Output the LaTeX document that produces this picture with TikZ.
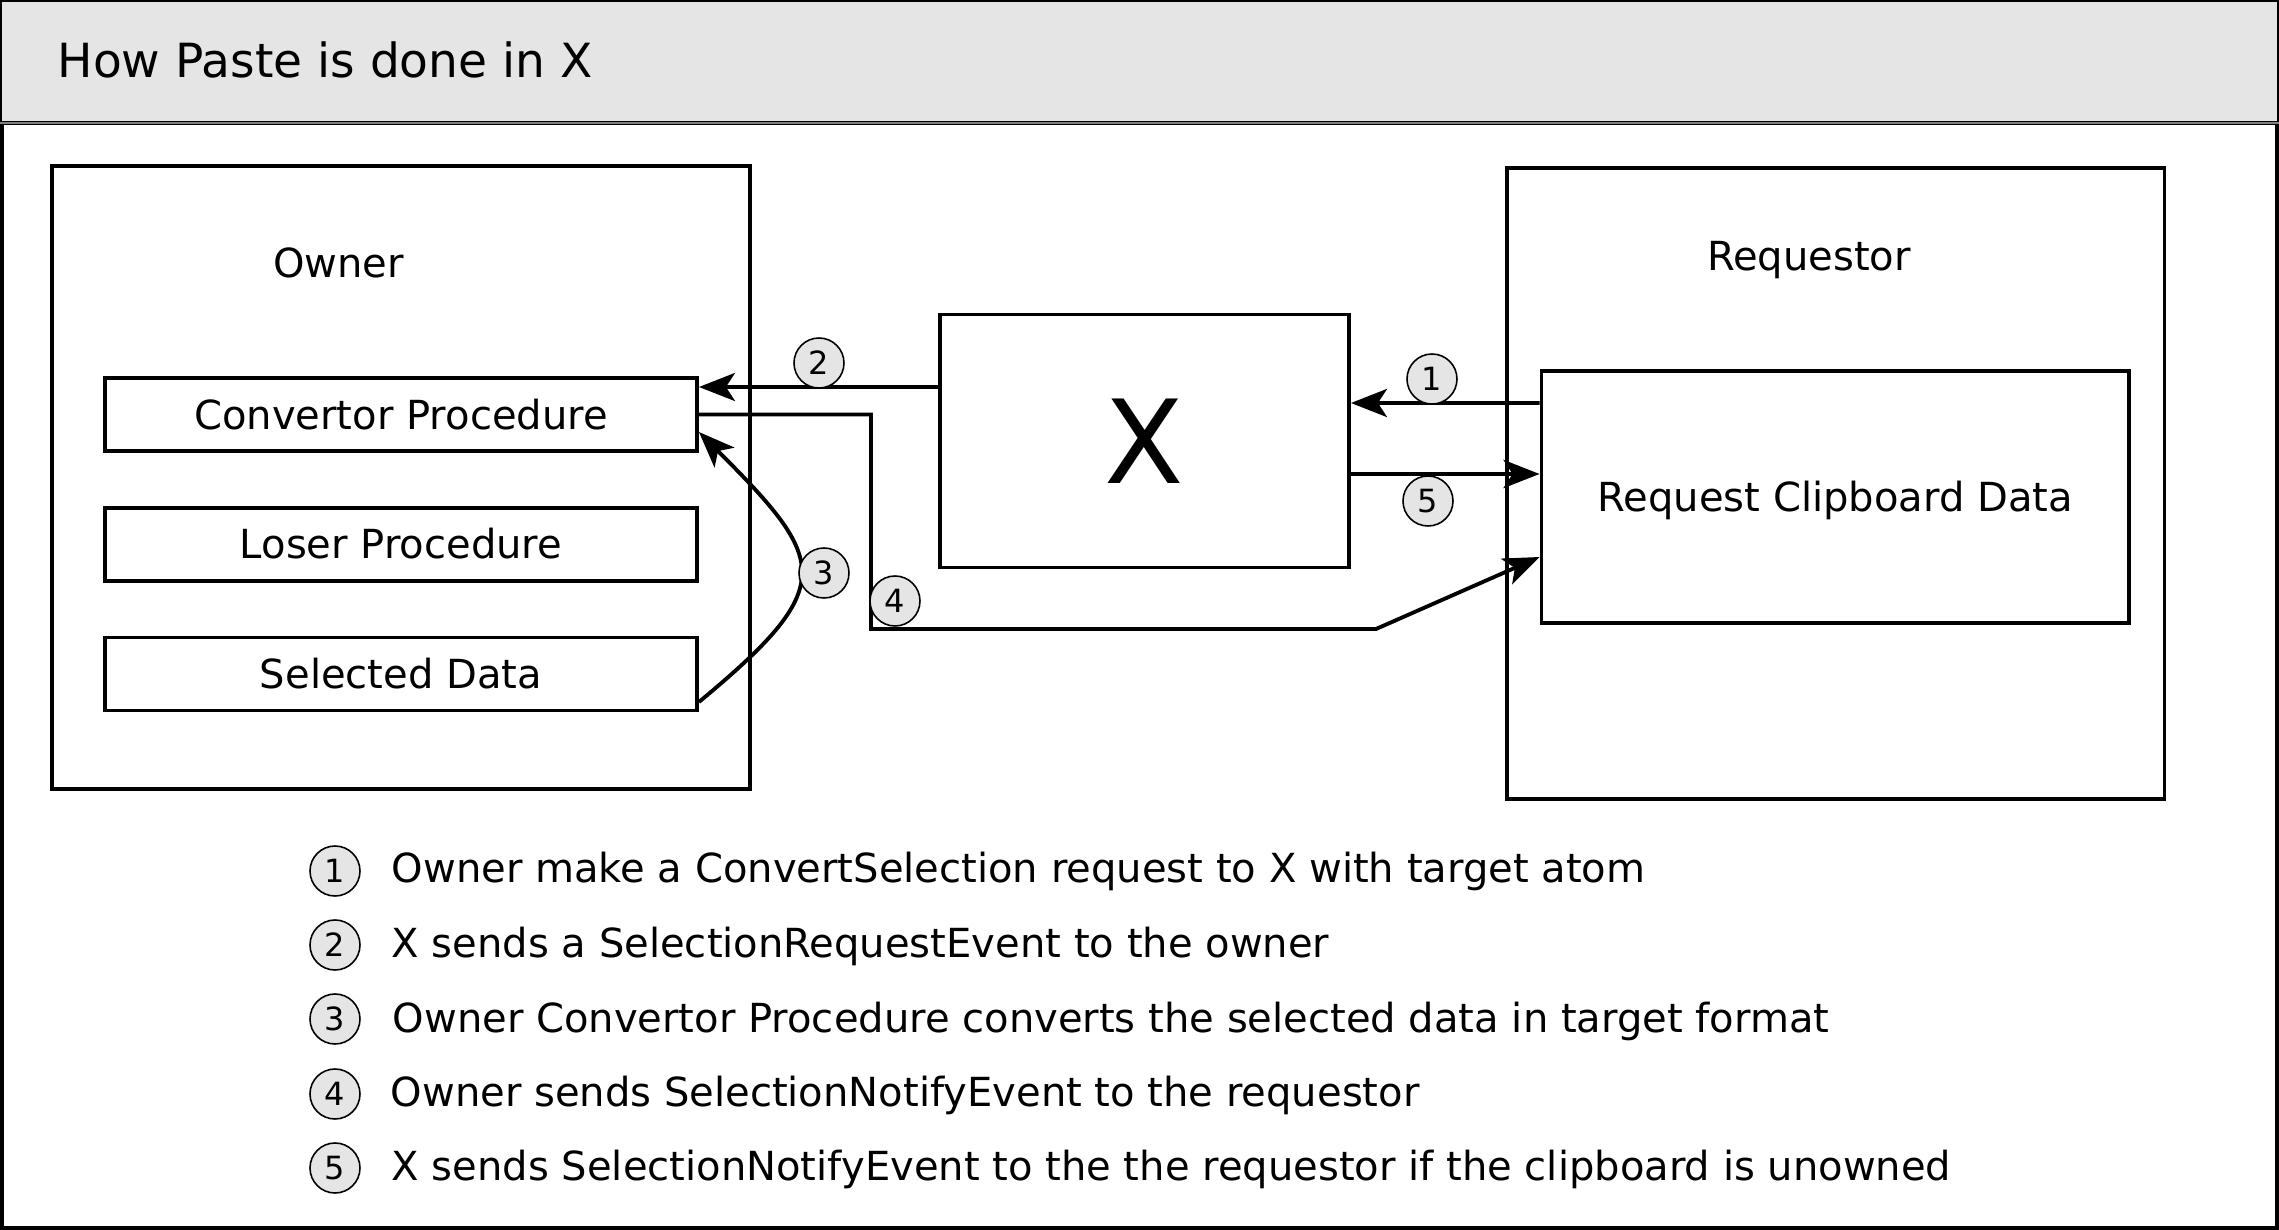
\documentclass[tikz,border=0pt]{standalone}
\usepackage{fontspec}
\setmainfont{DejaVu Sans}
\usepackage{tikz}
\usetikzlibrary{arrows.meta, positioning, calc}

\begin{document}
\begin{tikzpicture}[
    box/.style={
        rectangle, draw, line width=1.1pt, inner sep=0pt
    },
    proc/.style={
        box, minimum width=5.92cm, minimum height=0.73cm,
        font=\fontsize{11.4}{13}\selectfont, text height=8.3pt, text depth=0pt
    },
    tag/.style={inner sep=0pt, font=\fontsize{11.4}{13}\selectfont},
    badge/.style={
        circle, draw, line width=0.45pt, fill=gray!20, minimum size=0.5cm,
        inner sep=0pt, font=\fontsize{9.1}{10}\selectfont
    },
    note/.style={anchor=base west, inner sep=0pt, font=\fontsize{11.4}{13}\selectfont},
    link/.style={-{Stealth[length=3.6mm,width=2.8mm,inset=0.9mm]}, line width=1.1pt},
]

\useasboundingbox (0,0) rectangle (22.79,-12.30);

% Frame and header
\fill[gray!20] (0,0) rectangle (22.79,-1.23);
\draw[line width=0.5pt] (0.01,-1.23) -- (0.01,-0.01) -- (22.78,-0.01) -- (22.78,-1.23);
\draw[line width=1pt] (0.02,-1.23) rectangle (22.77,-12.28);
\draw[gray, line width=0.6pt] (0,-1.23) -- (22.79,-1.23);
\node[anchor=base west, inner sep=0pt, font=\fontsize{13.4}{16}\selectfont] (title) at (0.57,-0.78) {How Paste is done in X};

% Owner side
\node[box, minimum width=6.98cm, minimum height=6.23cm] (owner) at (4.01,-4.775) {};
\node[tag, anchor=base] (ownertxt) at (3.385,-2.78) {Owner};

\node[proc] (cp) at (4.01,-4.145) {Convertor Procedure};
\node[proc] (lp) at (4.01,-5.4425) {Loser Procedure};
\node[proc] (sd) at (4.01,-6.74) {Selected Data};

% X server
\node[box, minimum width=4.09cm, minimum height=2.53cm, font=\fontsize{33}{36}\selectfont] (xb) at (11.445,-4.41) {X};

% Requestor side
\node[box, minimum width=6.575cm, minimum height=6.31cm] (req) at (18.3575,-4.835) {};
\node[tag, anchor=base] (reqtxt) at (18.09,-2.71) {Requestor};

\node[box, minimum width=5.875cm, minimum height=2.52cm, font=\fontsize{11.4}{13}\selectfont,
      text height=8.3pt, text depth=0pt] (rc) at (18.3525,-4.97) {Request Clipboard Data};

% Connectors
\coordinate (k1) at (8.71,-6.29);
\coordinate (k2) at (13.76,-6.29);

% 1: requestor -> X
\draw[link] ([yshift=0.94cm]rc.west) -- ([yshift=0.38cm]xb.east);

% 2: X -> convertor
\draw[link] ([yshift=0.54cm]xb.west) -- ([yshift=0.275cm]cp.east);

% 3: selected data -> convertor
\draw[link] ([yshift=-0.28cm]sd.east) .. controls +(1.40,1.16) and +(1.29,-1.29) .. ([yshift=-0.175cm]cp.east);

% 4: convertor -> requestor
\draw[link] (cp.east) -| (k1) -- (k2) -- ([yshift=-0.60cm]rc.west);

% 5: X -> requestor
\draw[link] ([yshift=-0.33cm]xb.east) -- ([yshift=0.23cm]rc.west);

% Step badges
\node[badge] (b1) at (14.32,-3.79) {1};
\node[badge] (b2) at (8.19,-3.63) {2};
\node[badge] (b3) at (8.24,-5.73) {3};
\node[badge] (b4) at (8.95,-6.01) {4};
\node[badge] (b5) at (14.28,-5.01) {5};

% Legend
\node[badge] (g1) at (3.35,-8.71) {1};
\node[note] (n1) at (3.91,-8.82) {Owner make a ConvertSelection request to X with target atom};

\node[badge] (g2) at (3.35,-9.45) {2};
\node[note] (n2) at (3.91,-9.57) {X sends a SelectionRequestEvent to the owner};

\node[badge] (g3) at (3.35,-10.19) {3};
\node[note] (n3) at (3.92,-10.32) {Owner Convertor Procedure converts the selected data in target format};

\node[badge] (g4) at (3.35,-10.94) {4};
\node[note] (n4) at (3.90,-11.06) {Owner sends SelectionNotifyEvent to the requestor};

\node[badge] (g5) at (3.35,-11.68) {5};
\node[note] (n5) at (3.91,-11.80) {X sends SelectionNotifyEvent to the the requestor if the clipboard is unowned};

\end{tikzpicture}
\end{document}
